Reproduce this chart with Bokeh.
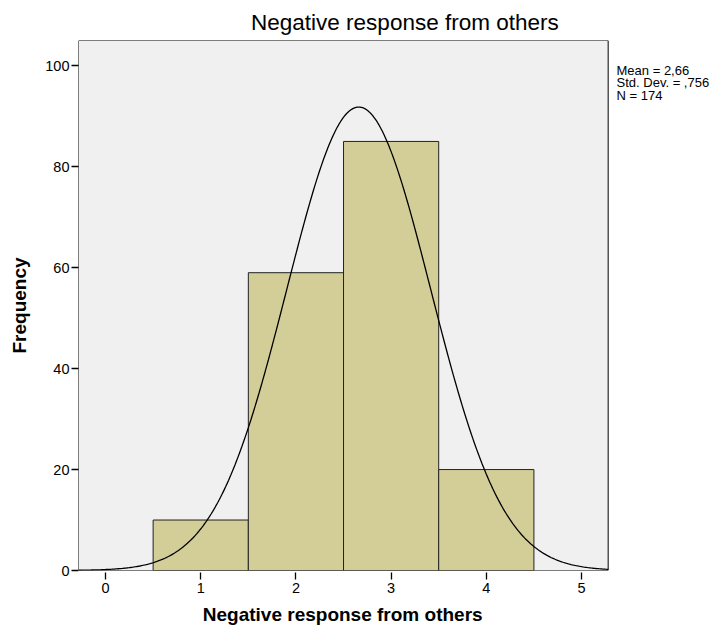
import numpy as np
from bokeh.plotting import figure
from bokeh.models import Range1d, FixedTicker, Label
from bokeh.embed import file_html
from bokeh.resources import INLINE

# Data
bin_centers = [1, 2, 3, 4]
frequencies = [10, 59, 85, 20]
bin_width = 1.0
mean_val = 2.66
std_val = 0.756
n_val = 174
stats_lines = ["Mean = 2,66", "Std. Dev. = ,756", "N = 174"]
x_ticks = [0, 1, 2, 3, 4, 5]
y_ticks = [0, 20, 40, 60, 80, 100]
title_text = "Negative response from others"
x_label = "Negative response from others"
y_label = "Frequency"

# Plot-area extents (data units) of the grey panel
AREA_X0, AREA_X1 = -0.284, 5.28
AREA_Y0, AREA_Y1 = 0, 105

FONT = "Liberation Sans"

# Frame extends to the right edge so the stats block can live inside it
p = figure(width=712, height=629, output_backend="svg", toolbar_location=None,
           x_range=Range1d(AREA_X0, 6.376), y_range=Range1d(AREA_Y0, AREA_Y1),
           min_border_left=78, min_border_right=0, min_border_top=40, min_border_bottom=59,
           title="\u00a0" * 3 + title_text)
p.background_fill_color = "white"
p.border_fill_color = "white"
p.outline_line_color = None
p.xgrid.visible = False
p.ygrid.visible = False

p.title.align = "center"
p.title.text_font = FONT
p.title.text_font_size = "22.5px"
p.title.text_font_style = "normal"
p.title.text_color = "black"
p.title.standoff = 12

# Grey plot panel with black border
p.quad(left=[AREA_X0], right=[AREA_X1], bottom=[AREA_Y0], top=[AREA_Y1],
       fill_color="#F0F0F0", line_color="black", line_width=1)

lefts = [c - bin_width / 2 for c in bin_centers]
rights = [c + bin_width / 2 for c in bin_centers]
p.quad(left=lefts, right=rights, bottom=0, top=frequencies,
       fill_color="#D3CE98", line_color="#222222", line_width=1)

xs = np.linspace(AREA_X0, AREA_X1, 400)
ys = n_val * bin_width * np.exp(-0.5 * ((xs - mean_val) / std_val) ** 2) / (std_val * np.sqrt(2 * np.pi))
p.line(xs, ys, line_color="black", line_width=1.3)

# Axes
for ax in (p.xaxis[0], p.yaxis[0]):
    ax.axis_line_color = None
    ax.minor_tick_line_color = None
    ax.major_tick_line_color = "black"
    ax.major_tick_line_width = 1.3
    ax.major_label_text_font = FONT
    ax.major_label_text_font_size = "14.5px"
    ax.major_label_text_color = "black"
    ax.axis_label_text_font = FONT
    ax.axis_label_text_font_style = "bold"
    ax.axis_label_text_font_size = "19px"
    ax.axis_label_text_color = "black"

p.xaxis.ticker = FixedTicker(ticks=x_ticks)
p.xaxis.major_tick_in = -2
p.xaxis.major_tick_out = 9
p.xaxis.major_label_standoff = 3
# trailing no-break spaces shift the centred label over the grey panel
p.xaxis.axis_label = x_label + "\u00a0" * 20
p.xaxis.axis_label_standoff = 8

p.yaxis.ticker = FixedTicker(ticks=y_ticks)
p.yaxis.major_tick_in = 0
p.yaxis.major_tick_out = 7
p.yaxis.major_label_standoff = 2
p.yaxis.axis_label = y_label
p.yaxis.axis_label_standoff = 12

# Stats block (inside the frame, right of the grey panel)
for i, s in enumerate(stats_lines):
    p.add_layout(Label(x=5.368, y=99.0 - i * 2.4, text=s, text_align="left",
                       text_baseline="middle", text_font=FONT,
                       text_font_size="13px", text_color="black"))

open("out.html", "w").write(file_html(p, INLINE))
